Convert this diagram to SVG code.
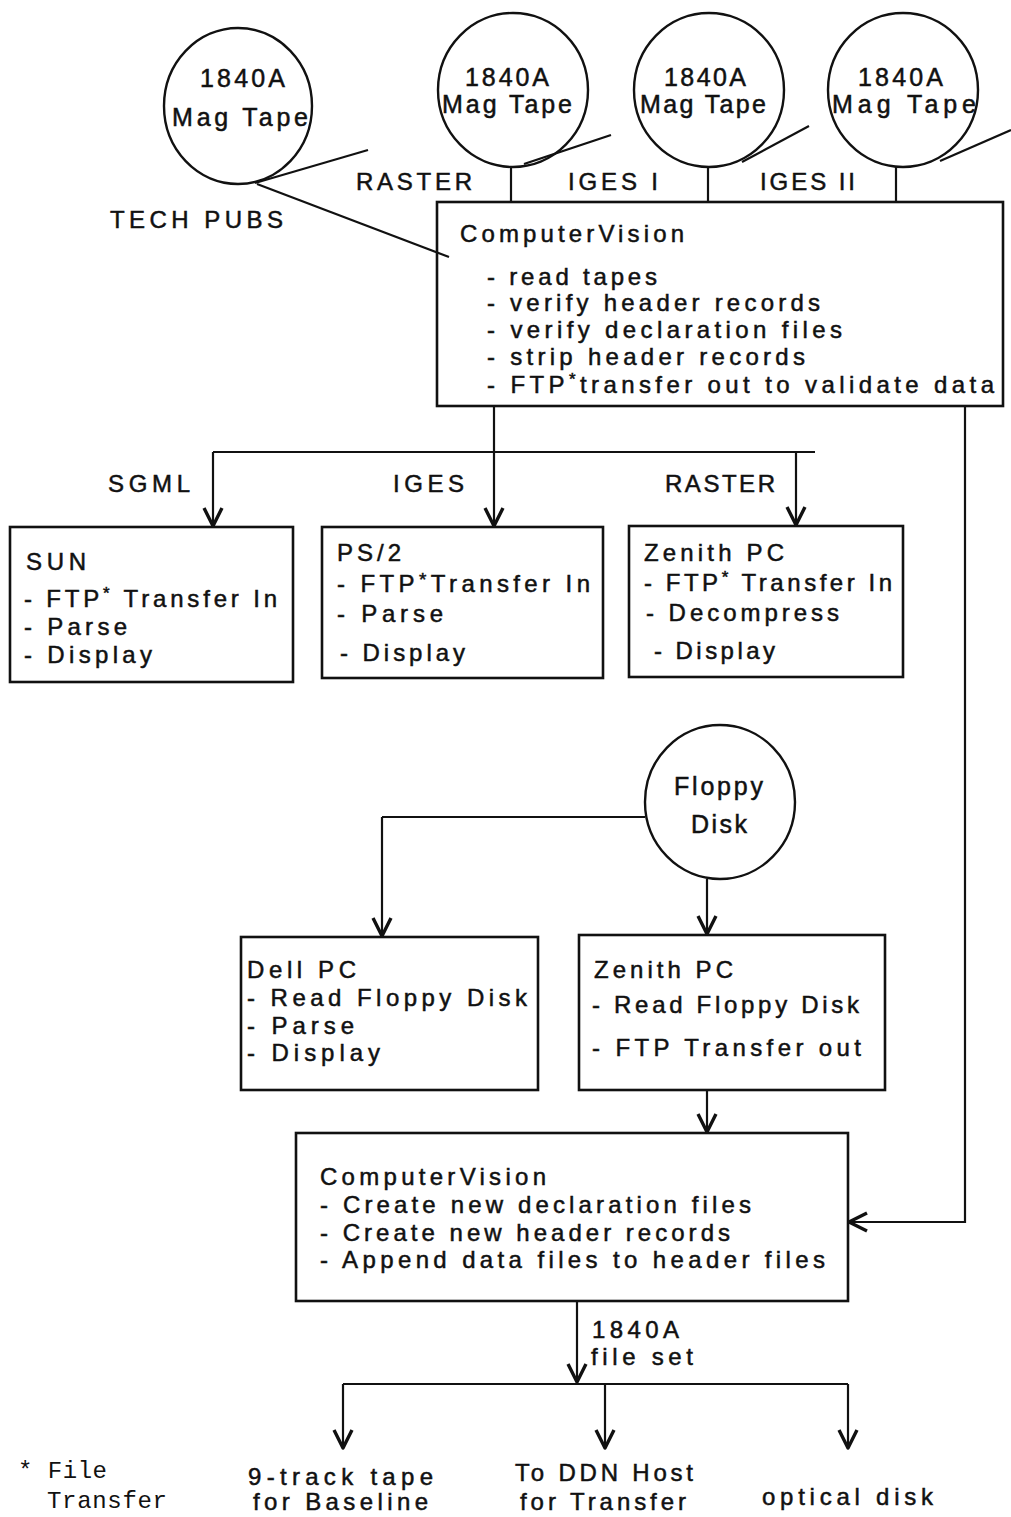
<svg xmlns="http://www.w3.org/2000/svg" width="1011" height="1517" viewBox="0 0 1011 1517">
<style>
.bg{fill:#fff}
.box{fill:none;stroke:#111;stroke-width:2.6}
.disk{fill:none;stroke:#111;stroke-width:2.4}
.ln{fill:none;stroke:#111;stroke-width:2.2}
.t{font-family:"Liberation Sans",Arial,sans-serif;font-size:24px;fill:#111;stroke:#111;stroke-width:0.5}
.c{font-family:"Liberation Sans",Arial,sans-serif;font-size:25px;fill:#111;stroke:#111;stroke-width:0.5}
.m{font-family:"Liberation Mono","Courier New",monospace;font-size:24px;fill:#111}
</style>
<defs>
<marker id="v" viewBox="-22 -12 24 24" refX="0" refY="0" markerWidth="24" markerHeight="24" markerUnits="userSpaceOnUse" orient="auto" overflow="visible">
<path d="M-18,-9 L0,0 L-18,9" fill="none" stroke="#111" stroke-width="3.4" stroke-linejoin="round"/>
</marker>
</defs>
<rect class="bg" x="0" y="0" width="1011" height="1517"/>

<g id="tape-techpubs">
<ellipse class="disk" cx="238" cy="106" rx="74" ry="78"/>
<line class="ln" x1="255" y1="183" x2="368" y2="150"/>
<text class="c" x="200" y="87" textLength="85" lengthAdjust="spacing">1840A</text>
<text class="c" x="172" y="126" textLength="136" lengthAdjust="spacing">Mag Tape</text>
</g>
<g id="tape-raster">
<ellipse class="disk" cx="513" cy="90" rx="75" ry="77"/>
<line class="ln" x1="524" y1="164" x2="611" y2="135"/>
<text class="c" x="465" y="86" textLength="84" lengthAdjust="spacing">1840A</text>
<text class="c" x="442" y="113" textLength="130" lengthAdjust="spacing">Mag Tape</text>
</g>
<g id="tape-iges1">
<ellipse class="disk" cx="709" cy="90" rx="75" ry="77"/>
<line class="ln" x1="742" y1="162" x2="809" y2="126"/>
<text class="c" x="664" y="86" textLength="82" lengthAdjust="spacing">1840A</text>
<text class="c" x="640" y="113" textLength="126" lengthAdjust="spacing">Mag Tape</text>
</g>
<g id="tape-iges2">
<ellipse class="disk" cx="903" cy="90" rx="75" ry="77"/>
<line class="ln" x1="940" y1="161" x2="1011" y2="130"/>
<text class="c" x="858" y="86" textLength="85" lengthAdjust="spacing">1840A</text>
<text class="c" x="832" y="113" textLength="144" lengthAdjust="spacing">Mag Tape</text>
</g>

<g id="labels">
<text class="t" x="356" y="190" textLength="116" lengthAdjust="spacing">RASTER</text>
<text class="t" x="568" y="190" textLength="90" lengthAdjust="spacing">IGES I</text>
<text class="t" x="760" y="190" textLength="95" lengthAdjust="spacing">IGES II</text>
<text class="t" x="110" y="228" textLength="173" lengthAdjust="spacing">TECH PUBS</text>
<text class="t" x="108" y="492" textLength="82" lengthAdjust="spacing">SGML</text>
<text class="t" x="393" y="492" textLength="71" lengthAdjust="spacing">IGES</text>
<text class="t" x="665" y="492" textLength="110" lengthAdjust="spacing">RASTER</text>
<text class="t" x="592" y="1338" textLength="87" lengthAdjust="spacing">1840A</text>
<text class="t" x="591" y="1365" textLength="102" lengthAdjust="spacing">file set</text>
</g>

<g id="cv1">
<rect class="box" x="437" y="202" width="566" height="204"/>
<text class="t" x="460" y="242" textLength="224" lengthAdjust="spacing">ComputerVision</text>
<text class="t" x="487" y="285" textLength="170" lengthAdjust="spacing">- read tapes</text>
<text class="t" x="487" y="311" textLength="333" lengthAdjust="spacing">- verify header records</text>
<text class="t" x="487" y="338" textLength="355" lengthAdjust="spacing">- verify declaration files</text>
<text class="t" x="487" y="365" textLength="318" lengthAdjust="spacing">- strip header records</text>
<text class="t" x="487" y="393" textLength="507" lengthAdjust="spacing">- FTP<tspan dy="-8" font-size="17">*</tspan><tspan dy="8">transfer out to validate data</tspan></text>
</g>

<g id="sun">
<rect class="box" x="10" y="527" width="283" height="155"/>
<text class="t" x="26" y="570" textLength="60" lengthAdjust="spacing">SUN</text>
<text class="t" x="24" y="607" textLength="253" lengthAdjust="spacing">- FTP<tspan dy="-8" font-size="17">*</tspan><tspan dy="8"> Transfer In</tspan></text>
<text class="t" x="24" y="635" textLength="103" lengthAdjust="spacing">- Parse</text>
<text class="t" x="24" y="663" textLength="128" lengthAdjust="spacing">- Display</text>
</g>
<g id="ps2">
<rect class="box" x="322" y="527" width="281" height="151"/>
<text class="t" x="337" y="561" textLength="64" lengthAdjust="spacing">PS/2</text>
<text class="t" x="337" y="592" textLength="253" lengthAdjust="spacing">- FTP<tspan dy="-6" font-size="19">*</tspan><tspan dy="6">Transfer In</tspan></text>
<text class="t" x="337" y="622" textLength="106" lengthAdjust="spacing">- Parse</text>
<text class="t" x="340" y="661" textLength="125" lengthAdjust="spacing">- Display</text>
</g>
<g id="zenith1">
<rect class="box" x="629" y="526" width="274" height="151"/>
<text class="t" x="644" y="561" textLength="140" lengthAdjust="spacing">Zenith PC</text>
<text class="t" x="644" y="591" textLength="248" lengthAdjust="spacing">- FTP<tspan dy="-8" font-size="17">*</tspan><tspan dy="8"> Transfer In</tspan></text>
<text class="t" x="646" y="621" textLength="193" lengthAdjust="spacing">- Decompress</text>
<text class="t" x="654" y="659" textLength="121" lengthAdjust="spacing">- Display</text>
</g>

<g id="floppy">
<ellipse class="disk" cx="720" cy="802" rx="75" ry="77"/>
<text class="c" x="674" y="795" textLength="89" lengthAdjust="spacing">Floppy</text>
<text class="c" x="691" y="833" textLength="56" lengthAdjust="spacing">Disk</text>
</g>

<g id="dell">
<rect class="box" x="241" y="937" width="297" height="153"/>
<text class="t" x="247" y="978" textLength="109" lengthAdjust="spacing">Dell PC</text>
<text class="t" x="247" y="1006" textLength="280" lengthAdjust="spacing">- Read Floppy Disk</text>
<text class="t" x="247" y="1034" textLength="107" lengthAdjust="spacing">- Parse</text>
<text class="t" x="247" y="1061" textLength="133" lengthAdjust="spacing">- Display</text>
</g>
<g id="zenith2">
<rect class="box" x="579" y="935" width="306" height="155"/>
<text class="t" x="594" y="978" textLength="139" lengthAdjust="spacing">Zenith PC</text>
<text class="t" x="592" y="1013" textLength="267" lengthAdjust="spacing">- Read Floppy Disk</text>
<text class="t" x="592" y="1056" textLength="269" lengthAdjust="spacing">- FTP Transfer out</text>
</g>

<g id="cv2">
<rect class="box" x="296" y="1133" width="552" height="168"/>
<text class="t" x="320" y="1185" textLength="226" lengthAdjust="spacing">ComputerVision</text>
<text class="t" x="320" y="1213" textLength="431" lengthAdjust="spacing">- Create new declaration files</text>
<text class="t" x="320" y="1241" textLength="410" lengthAdjust="spacing">- Create new header records</text>
<text class="t" x="320" y="1268" textLength="505" lengthAdjust="spacing">- Append data files to header files</text>
</g>

<g id="out-tape">
<text class="t" x="248" y="1485" textLength="185" lengthAdjust="spacing">9-track tape</text>
<text class="t" x="253" y="1510" textLength="175" lengthAdjust="spacing">for Baseline</text>
</g>
<g id="out-ddn">
<text class="t" x="515" y="1481" textLength="178" lengthAdjust="spacing">To DDN Host</text>
<text class="t" x="520" y="1510" textLength="166" lengthAdjust="spacing">for Transfer</text>
</g>
<g id="out-optical">
<text class="t" x="762" y="1505" textLength="171" lengthAdjust="spacing">optical disk</text>
</g>

<g id="footnote">
<text class="m" x="18" y="1478" textLength="89" lengthAdjust="spacing">* File</text>
<text class="m" x="47" y="1508" textLength="120" lengthAdjust="spacing">Transfer</text>
</g>

<g id="connectors">
<line class="ln" x1="257" y1="184" x2="449" y2="257"/>
<line class="ln" x1="511" y1="167" x2="511" y2="202"/>
<line class="ln" x1="708" y1="167" x2="708" y2="202"/>
<line class="ln" x1="896" y1="167" x2="896" y2="202"/>
<line class="ln" x1="494" y1="406" x2="494" y2="526" marker-end="url(#v)"/>
<line class="ln" x1="213" y1="452" x2="815" y2="452" stroke-width="3"/>
<line class="ln" x1="213" y1="452" x2="213" y2="526" marker-end="url(#v)"/>
<line class="ln" x1="796" y1="452" x2="796" y2="525" marker-end="url(#v)"/>
<path class="ln" d="M965,406 V1222 H849" marker-end="url(#v)"/>
<line class="ln" x1="645" y1="817" x2="382" y2="817" stroke-width="3"/>
<line class="ln" x1="382" y1="817" x2="382" y2="936" marker-end="url(#v)"/>
<line class="ln" x1="707" y1="879" x2="707" y2="934" marker-end="url(#v)"/>
<line class="ln" x1="707" y1="1090" x2="707" y2="1132" marker-end="url(#v)"/>
<line class="ln" x1="577" y1="1301" x2="577" y2="1382" marker-end="url(#v)"/>
<line class="ln" x1="343" y1="1384" x2="848" y2="1384" stroke-width="3"/>
<line class="ln" x1="343" y1="1384" x2="343" y2="1448" marker-end="url(#v)"/>
<line class="ln" x1="605" y1="1384" x2="605" y2="1448" marker-end="url(#v)"/>
<line class="ln" x1="848" y1="1384" x2="848" y2="1448" marker-end="url(#v)"/>
</g>
</svg>
